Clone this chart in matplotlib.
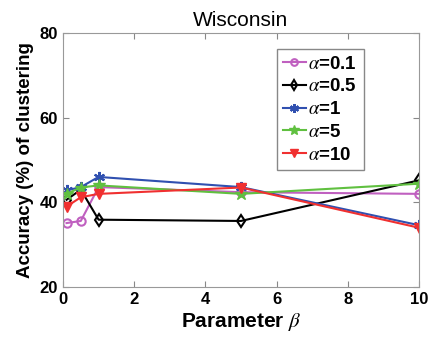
import matplotlib
matplotlib.use("Agg")
import matplotlib.pyplot as plt

plt.rcParams["font.family"] = ["Liberation Sans", "DejaVu Sans"]
plt.rcParams["mathtext.fontset"] = "stix"

beta = [0.1, 0.5, 1, 5, 10]
acc_a01 = [35.1, 35.6, 43.6, 42.4, 42.0]
acc_a05 = [40.6, 43.0, 35.9, 35.6, 45.2]
acc_a1 = [42.8, 43.6, 46.0, 43.6, 34.6]
acc_a5 = [42.0, 43.5, 44.0, 42.0, 44.4]
acc_a10 = [39.0, 41.2, 42.0, 43.5, 34.0]
labels = [r"$\alpha$=0.1", r"$\alpha$=0.5", r"$\alpha$=1", r"$\alpha$=5", r"$\alpha$=10"]

fig = plt.figure(figsize=(4.31, 3.45), dpi=100)
ax = fig.add_axes([63/431, 1-287/345, 356/431, 254/345])

ax.plot(beta, acc_a01, color="#C060C0", lw=1.5, marker="o", ms=6, mfc="none", mew=1.5, label=labels[0])
ax.plot(beta, acc_a05, color="black", lw=1.5, marker="d", ms=6, mfc="none", mew=1.5, label=labels[1])
ax.plot(beta, acc_a1, color="#3050B0", lw=1.5, marker=(6, 2, 0), ms=8, mew=1.5, label=labels[2])
ax.plot(beta, acc_a5, color="#60C040", lw=1.5, marker="*", ms=9, label=labels[3])
ax.plot(beta, acc_a10, color="#F03030", lw=1.5, marker="v", ms=7, label=labels[4])

ax.set_xlim(0, 10)
ax.set_ylim(20, 80)
ax.set_xticks([0, 2, 4, 6, 8, 10])
ax.set_yticks([20, 40, 60, 80])
for lab in ax.get_xticklabels() + ax.get_yticklabels():
    lab.set_fontsize(12)
    lab.set_fontweight("bold")
ax.tick_params(direction="in", length=4, color="#888888", top=True, right=True)
for s in ax.spines.values():
    s.set_color("#999999")

ax.set_title("Wisconsin", fontsize=15, pad=5)
ax.set_xlabel(r"Parameter $\beta$", fontsize=15, fontweight="bold", labelpad=3)
ax.set_ylabel("Accuracy (%) of clustering", fontsize=13.5, fontweight="bold")

# legend box sits left of the right edge, like the matlab original
leg = ax.legend(loc="upper right", bbox_to_anchor=(0.845, 0.937),
                prop={"weight": "bold", "size": 13.5}, fancybox=False, framealpha=1,
                handlelength=1.2, handletextpad=0.15, borderpad=0.35, labelspacing=0.3,
                borderaxespad=0, markerscale=0.8)
leg.get_frame().set_edgecolor("#888888")
leg.get_frame().set_linewidth(1.0)

fig.savefig("out.png", dpi=100)
